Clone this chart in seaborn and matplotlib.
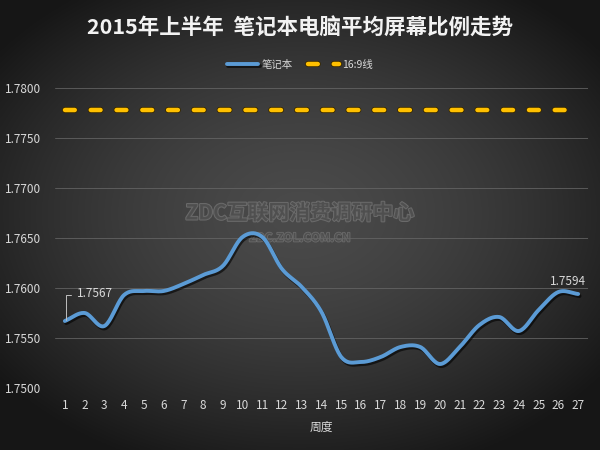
import numpy as np
import pandas as pd
import matplotlib
matplotlib.use("Agg")
import matplotlib.pyplot as plt
import matplotlib.patheffects as pe
import seaborn as sns

# ---- data ----
weeks = list(range(1, 28))
notebook = [1.7567, 1.7575, 1.7562, 1.7593, 1.7597, 1.7597, 1.7604, 1.7613,
            1.7622, 1.7651, 1.7651, 1.7619, 1.7601, 1.7576, 1.7531, 1.7526,
            1.7531, 1.7541, 1.7541, 1.7524, 1.7541, 1.7563, 1.7571, 1.7557,
            1.7578, 1.7596, 1.7594]
ratio_169 = 1.7778
yticks = [1.75, 1.755, 1.76, 1.765, 1.77, 1.775, 1.78]
title = "2015年上半年  笔记本电脑平均屏幕比例走势"
series_names = ["笔记本", "16:9线"]
xlabel = "周度"

sns.set_theme(style="dark")
plt.rcParams["font.family"] = ["Noto Sans CJK SC", "DejaVu Sans"]
plt.rcParams["axes.unicode_minus"] = False


def smooth(x, y, n=20):
    """Catmull-Rom smoothing for display (like Excel's smoothed line)."""
    x = np.asarray(x, float)
    y = np.asarray(y, float)
    px = np.concatenate([[2 * x[0] - x[1]], x, [2 * x[-1] - x[-2]]])
    py = np.concatenate([[2 * y[0] - y[1]], y, [2 * y[-1] - y[-2]]])
    xs, ys = [], []
    for i in range(1, len(px) - 2):
        t = np.linspace(0, 1, n, endpoint=False)
        for P, out in ((px, xs), (py, ys)):
            p0, p1, p2, p3 = P[i - 1], P[i], P[i + 1], P[i + 2]
            out.extend(0.5 * ((2 * p1) + (-p0 + p2) * t
                              + (2 * p0 - 5 * p1 + 4 * p2 - p3) * t ** 2
                              + (-p0 + 3 * p1 - 3 * p2 + p3) * t ** 3))
    xs.append(x[-1]); ys.append(y[-1])
    return np.array(xs), np.array(ys)


fig = plt.figure(figsize=(6, 4.5), dpi=100)

# background radial gradient
bg = fig.add_axes([0, 0, 1, 1], zorder=-10)
gx, gy = np.meshgrid(np.linspace(-1, 1, 300), np.linspace(-1, 1, 225))
r = np.sqrt((gx / 1.05) ** 2 + ((gy + 0.05) / 1.0) ** 2)
val = np.clip(0.29 - 0.15 * r ** 1.6, 0.09, 0.3)
img = np.dstack([val, val, val])
bg.imshow(img, aspect="auto", extent=[0, 1, 0, 1], interpolation="bilinear")
bg.set_xlim(0, 1); bg.set_ylim(0, 1)
bg.set_axis_off()

# watermark (behind the chart lines)
bg.text(0.5, 1 - 213 / 450, "ZDC互联网消费调研中心", ha="center", va="center",
        fontsize=15, fontweight="bold", color="#4e4e4e", alpha=0.9,
        path_effects=[pe.withStroke(linewidth=1.5, foreground="#6e6e6e")])
bg.text(0.5, 1 - 238 / 450, "ZDC.ZOL.COM.CN", ha="center", va="center",
        fontsize=8.5, fontweight="bold", color="#4e4e4e", alpha=0.9,
        path_effects=[pe.withStroke(linewidth=1.2, foreground="#6e6e6e")])

ax = fig.add_axes([55 / 600, 1 - 388 / 450, 533 / 600, 300 / 450])
ax.set_facecolor("none")

sx, sy = smooth(weeks, notebook)
df_s = pd.DataFrame({"week": sx, "value": sy})
df_h = pd.DataFrame({"week": [weeks[0], weeks[-1]], "value": [ratio_169, ratio_169]})

sns.lineplot(data=df_s, x="week", y="value", ax=ax, color="#5B9BD5",
             linewidth=2.8, label=series_names[0], sort=False,
             path_effects=[pe.SimpleLineShadow(offset=(1, -1.5), shadow_color="black", alpha=0.6),
                           pe.Normal()])
sns.lineplot(data=df_h, x="week", y="value", ax=ax, color="#FFC000",
             linewidth=3.2, label=series_names[1],
             dashes=(2.2, 3.6), dash_capstyle="round",
             path_effects=[pe.Stroke(linewidth=4.4, foreground="#3a2a00"), pe.Normal()])

ax.set_xlim(0.5, 27.5)
ax.set_ylim(1.75, 1.78)
ax.set_xticks(weeks)
ax.set_xticklabels([str(w) for w in weeks])
ax.set_yticks(yticks)
ax.set_yticklabels([f"{v:.4f}" for v in yticks])
ax.grid(axis="y", color="#666666", linewidth=0.7, alpha=0.8)
ax.grid(axis="x", visible=False)
for s in ax.spines.values():
    s.set_visible(False)
ax.tick_params(axis="both", colors="#d9d9d9", labelsize=8.5, length=0)
ax.tick_params(axis="x", pad=8)
ax.tick_params(axis="y", pad=10)
ax.set_xlabel(xlabel, color="#d9d9d9", fontsize=8.5, labelpad=6)
ax.set_ylabel("")

# data labels
ax.annotate(f"{notebook[0]:.4f}", xy=(weeks[0], notebook[0]),
            xytext=(weeks[0] + 0.6, 1.7594), color="#d9d9d9", fontsize=8.5,
            va="center", ha="left")
ax.plot([weeks[0] + 0.05, weeks[0] + 0.05, weeks[0] + 0.3],
        [notebook[0] + 0.0001, 1.7593, 1.7593], color="#bfbfbf", linewidth=0.7)
ax.annotate(f"{notebook[-1]:.4f}", xy=(weeks[-1], notebook[-1]),
            xytext=(-7, 4), textcoords="offset points", color="#d9d9d9",
            fontsize=8.5, ha="center", va="bottom")

# title
fig.text(0.5, 1 - 28 / 450, title, ha="center", va="center", fontsize=15.5,
         fontweight="bold", color="#f2f2f2")

# legend
ax.get_legend().remove()
handles, labels = ax.get_legend_handles_labels()
leg = fig.legend(handles, labels, loc="center", bbox_to_anchor=(0.5, 1 - 65 / 450),
                 ncol=2, frameon=False, fontsize=7.5, labelcolor="#d9d9d9",
                 handlelength=3.0, columnspacing=1.5, handletextpad=0.3)

fig.savefig("out.png", dpi=100)
